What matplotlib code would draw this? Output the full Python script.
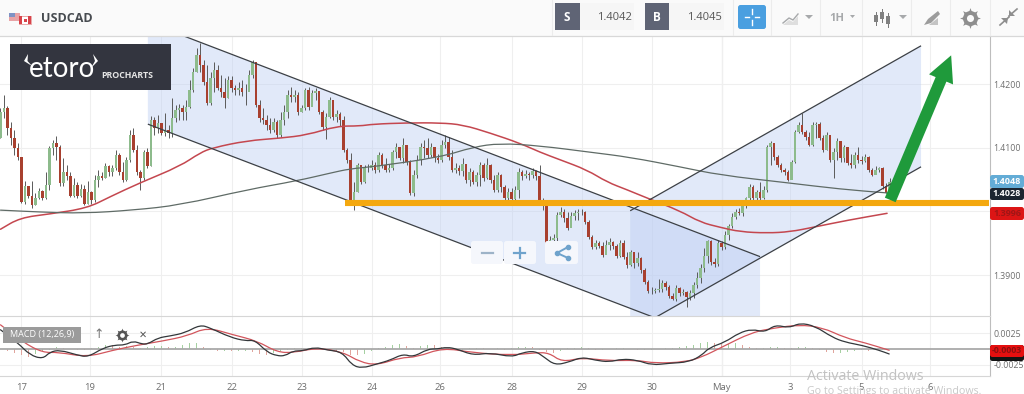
import numpy as np
import matplotlib
matplotlib.use("Agg")
import matplotlib.pyplot as plt
from matplotlib.path import Path
from matplotlib.patches import Polygon, Rectangle, FancyArrowPatch, FancyBboxPatch, PathPatch

plt.rcParams['font.family'] = ['Open Sans', 'DejaVu Sans']

# hourly candles, prices in pips (1.4200 = 14200)
first_open = 14115
closes = [
    14156,14162,14131,14115,14100,14085,14015,14040,14024,14010,14021,14032,14021,14041,14100,14107,14101,14045,14062,14056,
    14024,14041,14024,14035,14012,14030,14018,14049,14056,14052,14071,14062,14068,14089,14062,14049,14081,14120,14096,14062,
    14052,14093,14071,14143,14131,14139,14123,14128,14123,14147,14159,14162,14156,14164,14191,14219,14246,14230,14203,14170,
    14209,14222,14194,14187,14178,14206,14194,14191,14194,14187,14187,14214,14235,14167,14147,14143,14136,14128,14140,14120,
    14143,14156,14183,14180,14183,14156,14162,14191,14164,14186,14189,14156,14132,14148,14175,14148,14153,14143,14096,14081,
    14018,14030,14073,14046,14068,14068,14073,14065,14089,14073,14065,14068,14093,14101,14084,14104,14078,14029,14057,14081,
    14101,14100,14089,14101,14084,14081,14104,14109,14085,14065,14068,14063,14074,14049,14062,14046,14057,14073,14052,14073,
    14049,14034,14057,14038,14021,14030,14019,14034,14062,14056,14059,14057,14063,14056,14018,14008,13946,13955,13958,13994,
    13999,13990,13974,13993,13997,13999,13999,13983,13960,13944,13950,13946,13932,13947,13952,13946,13930,13950,13928,13916,
    13936,13919,13927,13908,13889,13875,13875,13877,13878,13888,13881,13867,13862,13880,13872,13873,13866,13872,13884,13895,
    13911,13930,13954,13921,13917,13950,13944,13963,13977,13991,13999,13997,14012,14021,14038,14021,14030,14021,14034,14101,
    14107,14085,14073,14065,14062,14049,14078,14125,14136,14125,14117,14104,14136,14137,14115,14096,14120,14081,14093,14111,
    14084,14101,14076,14073,14089,14081,14079,14085,14065,14057,14065,14068,14040,14029,14046,
]
highs = [
    14162,14183,14165,14140,14128,14107,14084,14048,14040,14048,14029,14037,14034,14062,14103,14112,14118,14104,14084,14073,
    14062,14052,14046,14043,14041,14048,14032,14057,14065,14062,14076,14073,14073,14096,14092,14078,14085,14128,14131,14104,
    14065,14096,14100,14150,14148,14151,14136,14154,14136,14178,14167,14169,14167,14175,14206,14225,14257,14264,14238,14230,
    14219,14235,14230,14214,14209,14213,14213,14198,14203,14206,14200,14222,14238,14235,14175,14162,14151,14147,14147,14143,
    14156,14167,14191,14195,14191,14187,14167,14194,14195,14191,14194,14187,14159,14154,14180,14175,14159,14156,14150,14100,
    14092,14046,14076,14065,14073,14074,14081,14078,14093,14092,14084,14074,14096,14107,14100,14115,14103,14081,14065,14089,
    14107,14112,14115,14107,14100,14090,14112,14120,14117,14096,14076,14073,14084,14071,14068,14065,14062,14078,14076,14084,
    14074,14057,14062,14059,14041,14037,14037,14040,14068,14065,14065,14062,14068,14065,14073,14021,14010,13961,13964,13999,
    14007,14004,13999,13999,14002,14004,14004,14001,13986,13963,13955,13954,13952,13955,13958,13954,13949,13955,13955,13936,
    13939,13936,13936,13928,13911,13892,13881,13880,13894,13892,13891,13884,13872,13884,13881,13878,13875,13877,13889,13905,
    13917,13943,13955,13955,13927,13955,13954,13969,13980,13997,14004,14005,14015,14023,14043,14041,14034,14046,14040,14104,
    14111,14107,14089,14076,14068,14065,14081,14128,14140,14154,14128,14125,14140,14140,14140,14120,14125,14115,14100,14115,
    14096,14104,14100,14090,14093,14101,14087,14090,14087,14068,14071,14070,14070,14045,14052,
]
lows = [
    14115,14147,14120,14104,14089,14081,14013,14012,14021,14005,14010,14019,14018,14019,14034,14089,14081,14040,14040,14049,
    14023,14023,14021,14023,14010,14012,14012,14015,14038,14049,14052,14056,14056,14065,14057,14046,14048,14078,14093,14057,
    14034,14049,14068,14071,14120,14123,14120,14118,14115,14117,14140,14143,14143,14143,14162,14187,14219,14219,14198,14167,
    14167,14187,14191,14180,14162,14178,14187,14183,14183,14181,14167,14191,14209,14164,14140,14137,14128,14123,14125,14115,
    14117,14136,14147,14172,14172,14151,14156,14159,14159,14165,14175,14153,14128,14114,14147,14143,14140,14134,14093,14076,
    14013,14002,14030,14043,14045,14062,14065,14060,14062,14068,14062,14062,14065,14084,14081,14076,14073,14026,14024,14052,
    14073,14084,14084,14085,14078,14076,14078,14100,14081,14062,14060,14057,14056,14045,14040,14043,14040,14040,14048,14051,
    14045,14030,14030,14030,14016,14010,14015,14016,14021,14049,14052,14049,14052,14049,14013,14002,13943,13950,13947,13954,
    13991,13983,13971,13980,13986,13986,13994,13980,13957,13941,13941,13943,13928,13936,13939,13941,13927,13928,13925,13911,
    13914,13911,13914,13903,13886,13872,13870,13872,13873,13873,13877,13864,13861,13859,13867,13869,13850,13861,13864,13880,
    13888,13905,13919,13916,13913,13914,13939,13941,13955,13974,13988,13994,13993,14005,14018,14018,14018,14018,14019,14030,
    14073,14081,14070,14062,14057,14048,14074,14076,14123,14122,14112,14103,14103,14115,14112,14093,14096,14078,14052,14081,
    14078,14078,14073,14068,14068,14076,14074,14078,14062,14056,14062,14062,14035,14029,14030,
]

# moving averages
ma_red_x = [0,5.6,14.1,24.7,31.3,39.9,51.3,57,60.7,70.4,79.9,87.6,96.1,102.7,106.4,116.1,125.6,132.1,139.9,148.4,
            154.1,159.9,167.6,173.3,179,184.7,194.1,199.9,205.6,211.3,219,225.6,232.1,241.9,253.3]
ma_red = [13972,13990,13996,14005,14023,14045,14071,14092,14100,14111,14115,14120,14134,14134,14137,14139,14139,14136,14123,14107,
          14093,14081,14065,14046,14034,14021,14001,13983,13975,13968,13966,13968,13975,13986,13997]
ma_gray_x = [0,11.3,23.6,37.9,51.3,70.4,84.7,94.1,99.9,106.4,125.6,135,142.7,154.1,168.4,179.9,194.1,205.6,224.7,239.9,253.3]
ma_gray = [14002,13999,13997,14002,14010,14034,14048,14060,14067,14070,14085,14101,14107,14103,14093,14085,14070,14057,14045,14035,14029]

# drawn channels: candle index, pips at start and end of each edge
down_x = [42.1, 217]
down_upper = [14297, 13929]
down_lower = [14137, 13770]
up_x = [179.9, 263]
up_upper = [14001, 14260]
up_lower = [13811, 14070]
support_x = [98.4, 282.3]
support_level = 14013
arrow_from = (254.2, 14018)
arrow_to = (271.6, 14245)

# macd panel, units of 0.0001
macd_x = [0,5,8.4,12.1,14.1,17,21.9,25,29.3,32.7,
          35.6,37.9,40.4,42.1,45,48.4,52.7,57,59.9,65.6,
          70,72.7,76.1,79,81.3,83.6,86.4,89.9,93.3,97.6,
          100.4,103.3,107.6,111.3,115,117.9,122.1,124.7,127.6,130.4,
          135,139.9,146.1,149,152.7,155.3,158.4,162.4,166.1,169.9,
          173.9,177.6,181.9,186.1,191,196.7,200.4,202.4,207,211,
          214.7,218.4,221.3,225.3,228.4,232.7,237.6,241.3,246.1,251,253.9]
macd = [31,9.7,-9.7,-16,-4.8,-1.6,-9.7,-13,1.6,6.4,
        6.4,13,8,8,18,21,26,39,34,19,
        13,14.5,-4.8,-11,-11,-3,-3,3,-1.6,-4.8,
        -26,-31,-24,-18,-8,-13,0,0,3,0,
        -10,-6,-13,-6,-3,-13,-26,-21,-13,-18,
        -21,-16,-18,-26,-23,-21,-10,2,11,26,
        32,27,39,34,42,37,19,11,6,-2,-8]
signal_x = [0,6.4,12.1,16.4,24.7,32.1,39,46.4,53.3,59,66.4,73.3,79,83.6,90.4,97.9,102.7,107.6,114.1,119,
            126.4,135,146.1,152.7,156.7,160.4,166.1,173.9,181.9,187,195.6,200.4,206.1,214.7,221.3,228.1,234.7,241.3,247,253.9]
signal = [39,11,-6,-5,-13,-2,6,13,21,35,23,13,-5,-6,2,-5,-21,-26,-14,-13,
          2,-6,-10,-6,-6,-21,-14,-19,-18,-23,-21,-13,3,27,34,39,35,18,10,-2]
# one bar every second candle
hist = [0,-3,-6,-10,-13,-8,-3,-1,3,2,0,-1,-2,1,4,7,6,4,5,3,2,4,5,5,3,3,6,9,10,4,-2,-3,-3,-4,-4,-3,-5,-8,-10,-7,
        -4,-1,1,2,2,1,-1,-2,-3,-5,-9,-10,-8,-3,2,4,6,8,5,2,5,7,6,3,1,-1,-1,1,2,1,0,1,-1,1,3,4,3,-1,-5,-6,
        -3,1,2,3,2,-1,-1,0,1,1,0,-2,-2,-1,0,1,2,3,5,7,9,11,10,8,8,9,7,3,1,2,3,3,2,1,3,3,1,-2,-5,-7,-6,-5,-4,-2,-3,-2,-1]

tick_pos = [6,25.5,46,66,86,106,125.5,146,166,186,206,225.5,246,265.5]
tick_labels = ['17','19','21','22','23','24','26','28','29','30','May','3','5','6']
price_ticks = [1.39, 1.40, 1.41, 1.42]
price_labels = ['1.3900', '', '1.4100', '1.4200']
macd_ticks = [-25, 25]
macd_labels = ['-0.0025', '0.0025']

W, H = 1024, 394
GREEN = '#8dbb8c'
RED = '#a8402f'
WICK = '#5a5a5a'
GRID = '#efefef'
TXT = '#6e6e6e'

fig = plt.figure(figsize=(W / 100, H / 100), dpi=100, facecolor='white')


def px_axes(left, top, right, bottom):
    return fig.add_axes([left / W, 1 - bottom / H, (right - left) / W, (bottom - top) / H])


def smooth_line(a, xs, ys, **kw):
    # rounded corners through the read points, curve control points are the points themselves
    pts = np.column_stack([xs, ys])
    mids = (pts[:-1] + pts[1:]) / 2
    verts = [pts[0], mids[0]]
    codes = [Path.MOVETO, Path.LINETO]
    for p, m in zip(pts[1:-1], mids[1:]):
        verts += [p, m]
        codes += [Path.CURVE3, Path.CURVE3]
    verts.append(pts[-1])
    codes.append(Path.LINETO)
    a.add_patch(PathPatch(Path(verts, codes), fc='none', capstyle='round', **kw))


ax = px_axes(0, 37, 990, 316)
ax2 = px_axes(0, 316, 990, 376)
xlim = (-0.14, 282.7)

# price panel
c = np.array(closes) / 10000
o = np.r_[first_open / 10000, c[:-1]]
h = np.array(highs) / 10000
l = np.array(lows) / 10000
idx = np.arange(len(c))
up = c >= o

for a in (ax, ax2):
    a.set_xlim(xlim)
    a.set_xticks(tick_pos)
    a.set_facecolor('none')
    for s in a.spines.values():
        s.set_visible(False)
    a.spines['right'].set_visible(True)
    a.spines['right'].set_color('#bdbdbd')
    a.spines['right'].set_linewidth(0.8)
    a.yaxis.tick_right()
    a.grid(True, color=GRID, lw=0.8, zorder=0)
    a.set_axisbelow(True)
    a.tick_params(length=0, labelsize=6.3, labelcolor=TXT, pad=2.5)

ax.set_ylim(1.38358, 1.42738)
ax.set_yticks(price_ticks)
ax.set_yticklabels(price_labels)
ax.tick_params(axis='x', labelbottom=False)
ax.axvline(tick_pos[10], color='#c9c9c9', lw=0.8, zorder=0)
ax2.axvline(tick_pos[10], color='#c9c9c9', lw=0.8, zorder=0)

# channel shading, the overlap goes darker by itself
down_poly = [(down_x[0], down_upper[0] / 1e4), (down_x[1], down_upper[1] / 1e4),
             (down_x[1], down_lower[1] / 1e4), (down_x[0], down_lower[0] / 1e4)]
up_poly = [(up_x[0], up_upper[0] / 1e4), (up_x[1], up_upper[1] / 1e4),
           (up_x[1], up_lower[1] / 1e4), (up_x[0], up_lower[0] / 1e4)]
ax.add_patch(Polygon(down_poly, closed=True, fc='#b9ccf3', ec='none', alpha=0.42, zorder=1))
ax.add_patch(Polygon(up_poly, closed=True, fc='#b9ccf3', ec='none', alpha=0.42, zorder=1))

ax.vlines(idx, l, h, color=WICK, lw=0.7, zorder=2)
ax.bar(idx[up], (c - o)[up], bottom=o[up], width=0.72, color=GREEN, zorder=3)
ax.bar(idx[~up], (c - o)[~up], bottom=o[~up], width=0.72, color=RED, zorder=3)

smooth_line(ax, ma_red_x, np.array(ma_red) / 1e4, ec='#c4474f', lw=1.1, zorder=4)
smooth_line(ax, ma_gray_x, np.array(ma_gray) / 1e4, ec='#5f6b66', lw=0.9, zorder=4)

for xs, ys in ((down_x, down_upper), (down_x, down_lower), (up_x, up_upper), (up_x, up_lower)):
    ax.plot(xs, np.array(ys) / 1e4, color='#3c4045', lw=0.9, zorder=5, solid_capstyle='butt')

ax.plot(support_x, [support_level / 1e4] * 2, color='#f4a80f', lw=4.4, zorder=6, solid_capstyle='butt')
ax.add_patch(FancyArrowPatch((arrow_from[0], arrow_from[1] / 1e4), (arrow_to[0], arrow_to[1] / 1e4),
                             arrowstyle='simple,head_length=1.25,head_width=1.25,tail_width=0.56',
                             mutation_scale=15, color='#1f9a3b', lw=0, zorder=7, shrinkA=0, shrinkB=0,
                             clip_on=False))

# macd panel
ax2.set_ylim(-43.5, 53.2)
ax2.set_yticks(macd_ticks)
ax2.set_yticklabels(macd_labels)
ax2.set_xticklabels(tick_labels)
ax2.tick_params(axis='x', pad=5, labelsize=6.8)
hist_x = np.arange(len(hist)) * 2
hist_v = np.array(hist, dtype=float)
rising = np.r_[True, np.diff(hist_v) >= 0]
ax2.bar(hist_x[rising], hist_v[rising], width=0.42, color='#a5d0a1', zorder=2)
ax2.bar(hist_x[~rising], hist_v[~rising], width=0.42, color='#e0a49c', zorder=2)
ax2.axhline(0, color='#a9a9a9', lw=1.3, zorder=3)
smooth_line(ax2, signal_x, signal, ec='#d2555c', lw=0.9, zorder=4)
smooth_line(ax2, macd_x, macd, ec='#33373a', lw=0.9, zorder=5)
ax2.spines['top'].set_visible(True)
ax2.spines['top'].set_color('#d6d6d6')
ax2.spines['bottom'].set_visible(True)
ax2.spines['bottom'].set_color('#d6d6d6')

# toolbar and overlays, in figure pixels
ui = fig.add_axes([0, 0, 1, 1], facecolor='none')
ui.set_xlim(0, W)
ui.set_ylim(H, 0)
ui.axis('off')


def box(x, y, w, h, fc, ec='none', lw=0.0, rounded=False, zorder=10):
    if rounded:
        ui.add_patch(FancyBboxPatch((x, y), w, h, boxstyle='round,pad=0,rounding_size=2.5', fc=fc, ec=ec, lw=lw, zorder=zorder))
    else:
        ui.add_patch(Rectangle((x, y), w, h, fc=fc, ec=ec, lw=lw, zorder=zorder))


def label(x, y, s, size=7, color=TXT, weight='normal', ha='center', family=None, zorder=12):
    kw = {'family': family} if family else {}
    ui.text(x, y, s, fontsize=size, color=color, fontweight=weight, ha=ha, va='center', zorder=zorder, **kw)


def gear(x, y, size, color, hole):
    ui.plot([x], [y], marker=(8, 1, 0), ms=size, color=color, mew=0, zorder=12)
    ui.plot([x], [y], marker='o', ms=size * 0.72, color=color, mew=0, zorder=12)
    ui.plot([x], [y], marker='o', ms=size * 0.34, color=hole, mew=0, zorder=13)


box(0, 0, W, 35.5, '#fafafa')
ui.plot([0, W], [35.5, 35.5], color='#d8d8d8', lw=0.9, zorder=11)
for xp in [552, 733, 771, 820, 862, 911, 950, 990]:
    ui.plot([xp, xp], [0, 35], color='#ececec', lw=0.8, zorder=11)

# flags
box(9, 13, 11, 8, '#e8a3a6', zorder=12)
box(9, 13, 6, 4, '#7f92c4', zorder=13)
box(19, 16, 12, 8, '#ffffff', ec='#dd6b6b', lw=0.4, zorder=14)
box(19, 16, 3, 8, '#d8434a', zorder=15)
box(28, 16, 3, 8, '#d8434a', zorder=15)
box(24.2, 18.5, 2.6, 3, '#d8434a', zorder=15)
label(41, 18, 'USDCAD', size=9, color='#474b50', weight='bold', ha='left')

# sell / buy
box(555, 3, 25, 27, '#5f6475')
label(567, 17, 'S', size=8.5, color='white', weight='bold')
box(580, 3, 54, 27, '#f6f6f6')
label(632, 17, '1.4042', size=8, color='#555555', ha='right')
box(645, 3, 24, 27, '#5f6475')
label(657, 17, 'B', size=8.5, color='white', weight='bold')
box(669, 3, 55, 27, '#f6f6f6')
label(722, 17, '1.4045', size=8, color='#555555', ha='right')

# crosshair button
box(738, 5, 28, 24, '#4a9fe0', rounded=True)
for seg in ([(745, 17), (749, 17)], [(755, 17), (759, 17)], [(752, 9), (752, 14)], [(752, 20), (752, 25)]):
    ui.plot(*zip(*seg), color='white', lw=1.0, zorder=12)

# toolbar icons
ICON = '#a7a9ab'
ui.plot([783, 789, 793, 798], [23, 18, 20, 14], color=ICON, lw=1.0, zorder=12)
ui.add_patch(Polygon([(783, 25), (789, 20), (793, 22), (798, 16), (798, 25)], fc='#dedede', ec='none', zorder=11))
ui.add_patch(Polygon([(805, 15), (813, 15), (809, 19)], fc=ICON, ec='none', zorder=12))
label(837, 18, '1H', size=8, color=ICON, weight='bold')
ui.add_patch(Polygon([(850, 15), (855, 15), (852.5, 18)], fc=ICON, ec='none', zorder=12))
for xp, top, bot in ((876, 12, 25), (882, 9, 22), (888, 13, 27)):
    ui.plot([xp, xp], [top, bot], color='#777777', lw=0.7, zorder=12)
    box(xp - 2, top + 3, 4, bot - top - 6, '#808080', zorder=13)
ui.add_patch(Polygon([(899, 15), (907, 15), (903, 19)], fc=ICON, ec='none', zorder=12))
# pencil over a small wedge
ui.add_patch(Polygon([(924, 25), (928, 19), (938, 11), (940, 14), (931, 23)], fc='#9c9c9c', ec='none', zorder=12))
ui.add_patch(Polygon([(929, 25), (938, 18), (938, 25)], fc='#c4c4c4', ec='none', zorder=12))
gear(970, 17.5, 15, '#8e8e8e', '#fafafa')
ui.plot([1000, 1009], [25, 17], color='#8e8e8e', lw=1.2, zorder=12)
ui.plot([1017, 1009], [9, 16], color='#8e8e8e', lw=1.2, zorder=12)
ui.add_patch(Polygon([(1009, 16), (1009, 10), (1015, 16)], fc='#8e8e8e', ec='none', zorder=12))
ui.add_patch(Polygon([(1008, 18), (1001, 18), (1007, 24)], fc='#8e8e8e', ec='none', zorder=12))

# logo
box(10, 44, 161, 46, '#33353f')
label(29, 69, 'etoro', size=20, color='white', ha='left', family='Lato')
label(101, 75.5, 'PROCHARTS', size=6.3, color='#e6e6e6', weight='bold', ha='left')
ui.add_patch(Polygon([(28, 54), (24, 61), (32, 66), (27.5, 61)], fc='white', ec='none', zorder=12))
ui.add_patch(Polygon([(93, 54), (98, 61), (91, 68), (95, 61)], fc='white', ec='none', zorder=12))

# zoom / share buttons
for xb, wb in ((471, 32), (504, 32), (545, 33)):
    box(xb, 241, wb, 23, '#f5f7fc', rounded=True, zorder=8)
ui.plot([482, 493], [253, 253], color='#9db3c8', lw=1.6, zorder=9)
ui.plot([514, 525], [253, 253], color='#6fa3cc', lw=1.6, zorder=9)
ui.plot([519.5, 519.5], [248, 258], color='#6fa3cc', lw=1.6, zorder=9)
ui.plot([568, 557, 568], [247, 253, 258], color='#6fa3cc', lw=1.4, marker='o', ms=3, zorder=9)

# last-value tags
box(990, 175, 34, 13, '#63acd6', rounded=True)
label(1007, 181.5, '1.4048', size=6.5, color='white', weight='bold')
box(990, 188, 34, 12, '#1c2530', rounded=True)
label(1007, 193.5, '1.4028', size=6.5, color='white', weight='bold')
box(990, 207, 34, 13, '#dc1515', rounded=True)
label(1007, 213.5, '1.3996', size=6.5, color='#a01515', weight='bold')
box(990, 345, 34, 16, '#141414', rounded=True)
box(990, 345, 34, 12, '#e50f0f', rounded=True)
label(1007, 350.5, '-0.0003', size=6.3, color='#8b1010', weight='bold')

# macd legend
box(3, 327, 78, 16, '#9b9b9b')
label(42, 335, 'MACD (12,26,9)', size=6.5, color='white')
label(99, 335, '\u2191', size=9, color='#777777', family='DejaVu Sans')
gear(122, 335, 10, '#555555', 'white')
label(143, 335, '\u2715', size=7, color='#555555', family='DejaVu Sans')

# watermark
label(807, 377, 'Activate Windows', size=10.3, color='#c2c2c2', ha='left', zorder=14)
label(807, 391.5, 'Go to Settings to activate Windows.', size=7.7, color='#c8c8c8', ha='left', zorder=14)

fig.savefig('out.png', dpi=100)
